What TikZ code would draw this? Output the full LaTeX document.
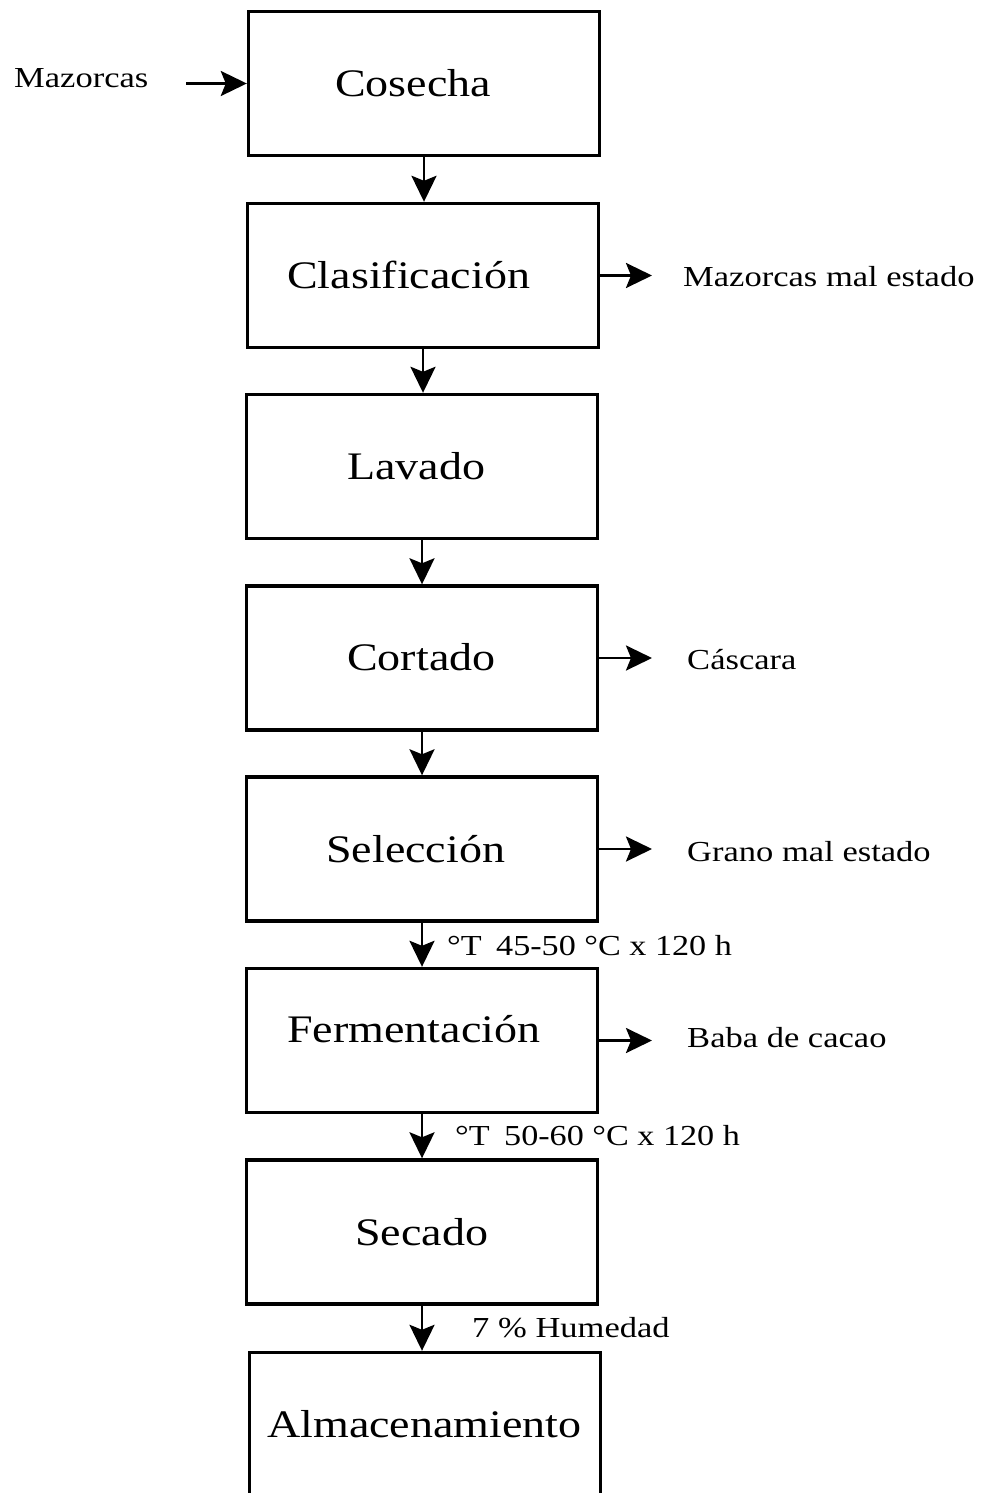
\documentclass[tikz,border=0pt]{standalone}
\usepackage{fontspec}
\setmainfont{Liberation Serif}
\usetikzlibrary{arrows.meta}
\begin{document}
\begin{tikzpicture}[x=1pt,y=-1pt,
 box/.style={draw, line width=3.4pt, minimum width=351pt, minimum height=144pt, inner sep=0pt},
 big/.style={inner sep=0pt, anchor=base west, xscale=1.18, font=\fontsize{39}{44}\selectfont},
 small/.style={inner sep=0pt, anchor=base west, xscale=1.19, font=\fontsize{29}{34}\selectfont},
 arr/.style={line width=2.8pt, -{Stealth[length=26pt,width=25pt,inset=5pt]}}]
\useasboundingbox (0,0) rectangle (986,1493);
\clip (0,0) rectangle (986,1493);
\fill[white] (0,0) rectangle (986,1493);

% boxes
\node[box] (cos) at (424,83.5) {};
\node[box] (cla) at (423,275.5) {};
\node[box] (lav) at (422,466.5) {};
\node[box] (cor) at (422,658) {};
\node[box] (sel) at (422,849) {};
\node[box] (fer) at (422,1040.5) {};
\node[box] (sec) at (422,1232) {};
\node[box] (alm) at (425,1424.5) {};

% box labels
\node[big] (tcos) at (335,97) {Cosecha};
\node[big] (tcla) at (287,288) {Clasificación};
\node[big] (tlav) at (347,479) {Lavado};
\node[big] (tcor) at (347,670) {Cortado};
\node[big] (tsel) at (326,862) {Selección};
\node[big] (tfer) at (287,1042) {Fermentación};
\node[big] (tsec) at (355,1245) {Secado};
\node[big] (talm) at (267,1437) {Almacenamiento};

% input
\node[small] (maz) at (14,88) {Mazorcas};
\coordinate (inp) at (186,83.5);
\draw[arr] (inp) -- (cos.west);

% vertical flow
\draw[arr] (cos.south) -- (cos.south |- cla.north);
\draw[arr] (cla.south) -- (cla.south |- lav.north);
\draw[arr] (lav.south) -- (lav.south |- cor.north);
\draw[arr] (cor.south) -- (cor.south |- sel.north);
\draw[arr] (sel.south) -- (sel.south |- fer.north);
\draw[arr] (fer.south) -- (fer.south |- sec.north);
\draw[arr] (sec.south) -- (sec.south |- alm.north);

% outputs
\coordinate (o1) at (652,275.5);
\coordinate (o2) at (652,658);
\coordinate (o3) at (652,849);
\coordinate (o4) at (652,1040.5);
\draw[arr] (cla.east) -- (o1);
\draw[arr] (cor.east) -- (o2);
\draw[arr] (sel.east) -- (o3);
\draw[arr] (fer.east) -- (o4);
\node[small] (l1) at (683,286) {Mazorcas mal estado};
\node[small] (l2) at (687,669) {Cáscara};
\node[small] (l3) at (687,861) {Grano mal estado};
\node[small] (l4) at (687,1047) {Baba de cacao};

% annotations
\node[small, xscale=0.99] (a1) at (447,955) {°T\hspace{5pt} 45-50 °C x 120 h};
\node[small, xscale=0.99] (a2) at (455,1145) {°T\hspace{5pt} 50-60 °C x 120 h};
\node[small] (a3) at (472,1337) {7 \% Humedad};
\end{tikzpicture}
\end{document}
